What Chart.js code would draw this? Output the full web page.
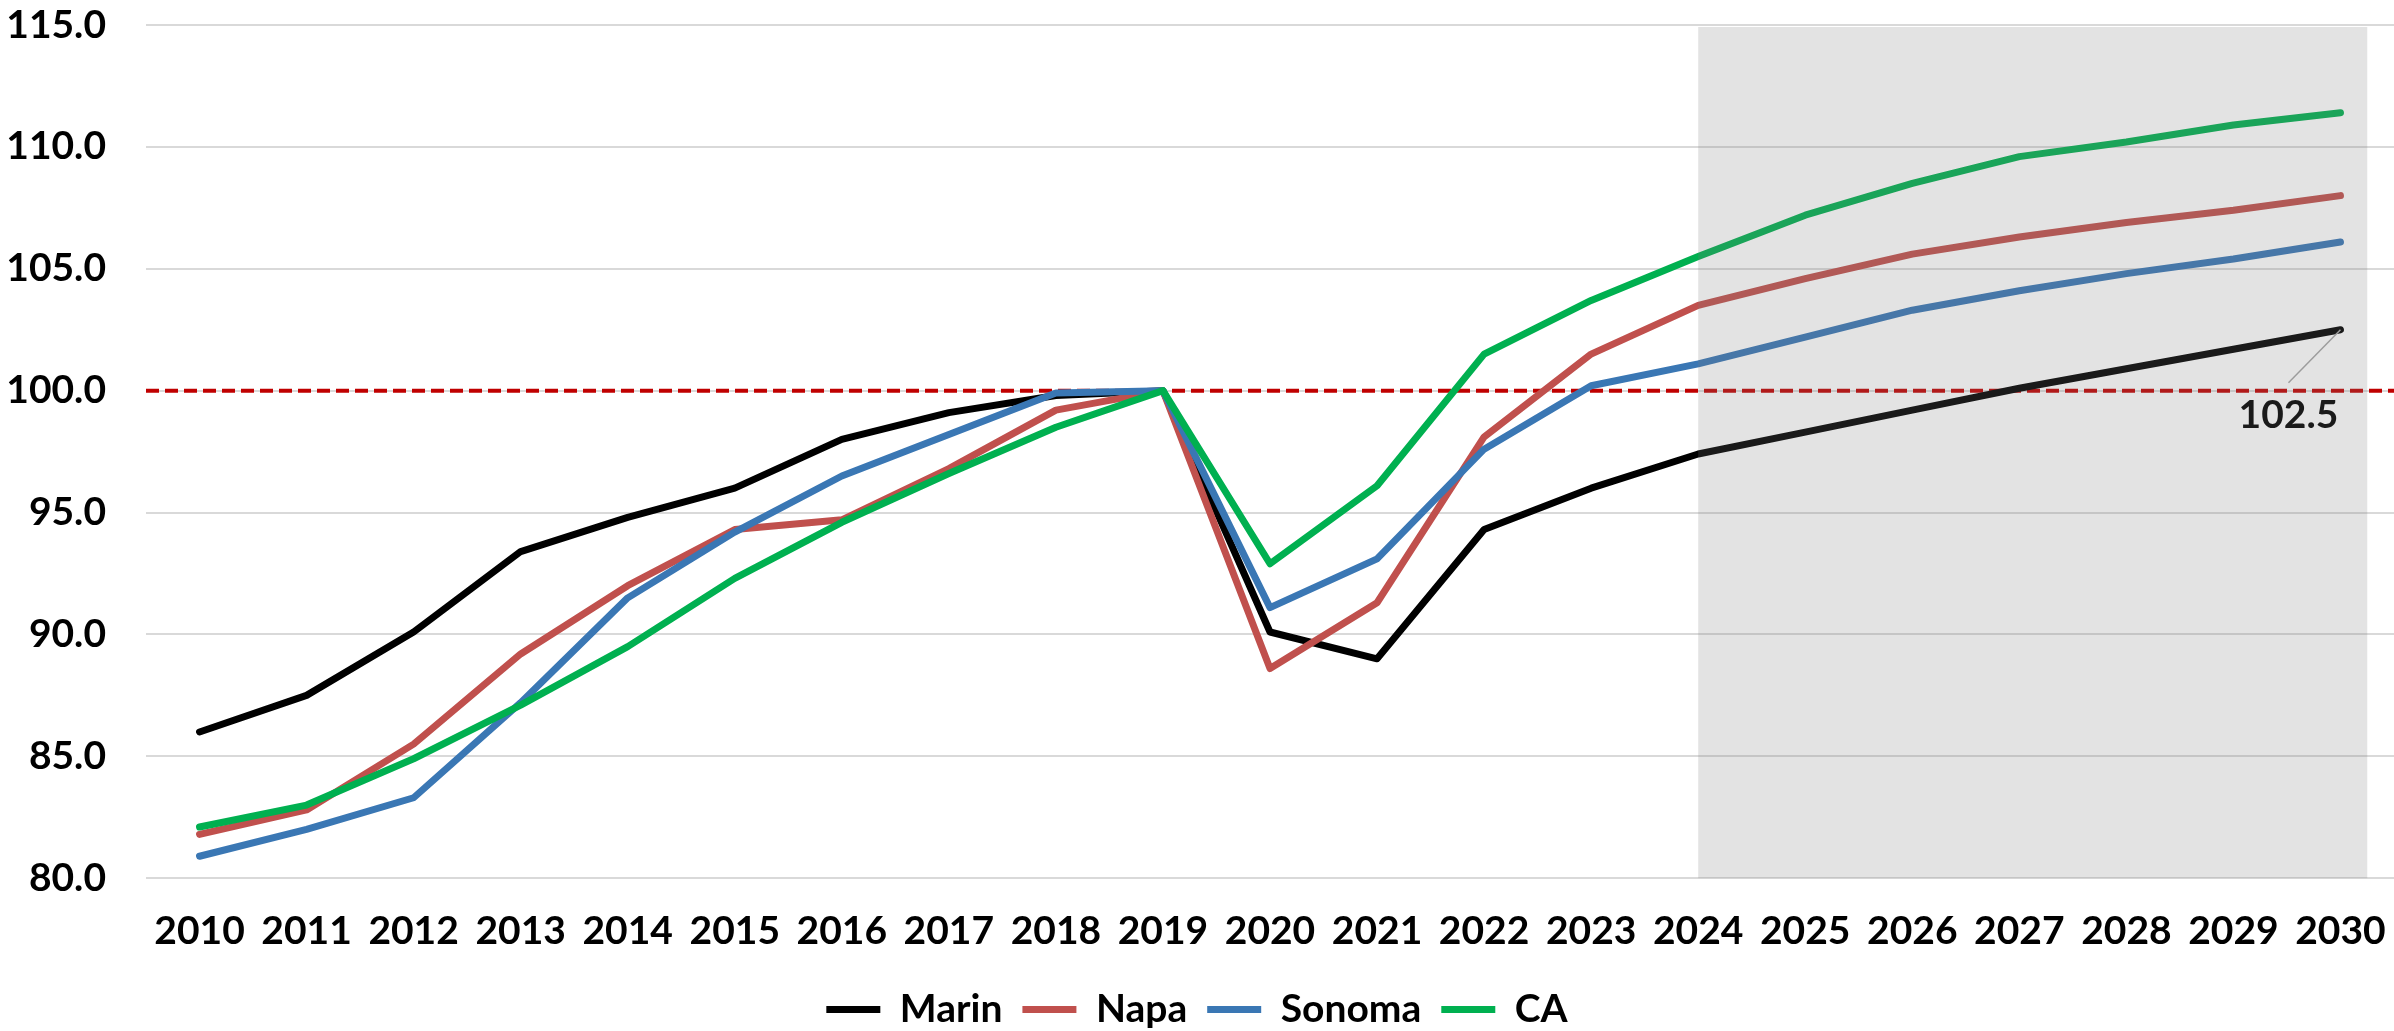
<!DOCTYPE html>
<html>
<head>
<meta charset="utf-8">
<script src="https://cdn.jsdelivr.net/npm/chart.js@4.4.1/dist/chart.umd.min.js"></script>
<style>
  html, body { margin: 0; padding: 0; background: #fff; }
  #wrap { width: 2394px; height: 1031px; position: relative; }
</style>
</head>
<body>
<div id="wrap"><canvas id="chart"></canvas></div>
<script>
// Index values, 2019 = 100
const years = ['2010', '2011', '2012', '2013', '2014', '2015', '2016', '2017', '2018', '2019',
  '2020', '2021', '2022', '2023', '2024', '2025', '2026', '2027', '2028', '2029', '2030'];

const marin = [86.0, 87.5, 90.1, 93.4, 94.8, 96.0, 98.0, 99.1, 99.8, 100.0,
  90.1, 89.0, 94.3, 96.0, 97.4, 98.3, 99.2, 100.1, 100.9, 101.7, 102.5];
const napa = [81.8, 82.8, 85.5, 89.2, 92.0, 94.3, 94.7, 96.8, 99.2, 100.0,
  88.6, 91.3, 98.1, 101.5, 103.5, 104.6, 105.6, 106.3, 106.9, 107.4, 108.0];
const sonoma = [80.9, 82.0, 83.3, 87.2, 91.5, 94.2, 96.5, 98.2, 99.9, 100.0,
  91.1, 93.1, 97.6, 100.2, 101.1, 102.2, 103.3, 104.1, 104.8, 105.4, 106.1];
const ca = [82.1, 83.0, 84.9, 87.1, 89.5, 92.3, 94.6, 96.6, 98.5, 100.0,
  92.9, 96.1, 101.5, 103.7, 105.5, 107.2, 108.5, 109.6, 110.2, 110.9, 111.4];

const seriesNames = ['Marin', 'Napa', 'Sonoma', 'CA'];
const seriesColors = ['#000000', '#C0504D', '#3A77B4', '#00B050'];

const yMin = 80;
const yMax = 115;
const yStep = 5;
const baseline = 100;
const forecastStart = '2024';
const forecastEnd = '2030';
const endLabel = '102.5';

const FONT = 'Lato, "Open Sans", sans-serif';
const FONT_SIZE = 39;
const LEGEND_PAD = 20;

// dashed reference line at 100
const baselinePlugin = {
  id: 'baseline',
  beforeDatasetsDraw(chart) {
    const { ctx, chartArea, scales } = chart;
    const y = scales.y.getPixelForValue(baseline);
    ctx.save();
    ctx.strokeStyle = '#C00000';
    ctx.lineWidth = 4;
    ctx.setLineDash([13, 6]);
    ctx.beginPath();
    ctx.moveTo(chartArea.left, y);
    ctx.lineTo(chartArea.right, y);
    ctx.stroke();
    ctx.restore();
  }
};

// end label for Marin + shaded forecast band on top
const forecastPlugin = {
  id: 'forecast',
  afterDatasetsDraw(chart) {
    const { ctx, chartArea, scales } = chart;
    const x = scales.x;
    const y = scales.y;

    // leader line + label
    const last = marin.length - 1;
    const px = x.getPixelForValue(last);
    const py = y.getPixelForValue(marin[last]);
    ctx.save();
    ctx.strokeStyle = '#a6a6a6';
    ctx.lineWidth = 1.5;
    ctx.beginPath();
    ctx.moveTo(px, py);
    ctx.lineTo(px - 52, py + 53);
    ctx.stroke();
    ctx.fillStyle = '#000';
    ctx.font = 'bold ' + FONT_SIZE + 'px ' + FONT;
    ctx.textAlign = 'center';
    ctx.textBaseline = 'middle';
    ctx.fillText(endLabel, px - 52, py + 86);
    ctx.restore();

    // band
    const step = x.getPixelForValue(1) - x.getPixelForValue(0);
    const left = x.getPixelForValue(years.indexOf(forecastStart));
    const right = x.getPixelForValue(years.indexOf(forecastEnd)) + step * 0.25;
    ctx.save();
    ctx.fillStyle = 'rgba(125, 125, 125, 0.21)';
    ctx.fillRect(left, chartArea.top + 2, right - left, chartArea.bottom - chartArea.top - 2);
    ctx.restore();
  }
};

const values = [marin, napa, sonoma, ca];

new Chart(document.getElementById('chart'), {
  type: 'line',
  data: {
    labels: years,
    datasets: values.map((data, i) => ({
      label: seriesNames[i],
      data,
      borderColor: seriesColors[i],
      backgroundColor: seriesColors[i],
      borderWidth: 7,
      borderCapStyle: 'round',
      borderJoinStyle: 'round',
      pointRadius: 0,
      tension: 0,
      order: values.length - i
    }))
  },
  options: {
    responsive: true,
    maintainAspectRatio: false,
    animation: false,
    layout: { padding: { top: 0, right: 0, bottom: -8, left: 0 } },
    plugins: {
      legend: {
        position: 'bottom',
        labels: {
          usePointStyle: true,
          pointStyle: 'line',
          pointStyleWidth: 54,
          padding: LEGEND_PAD,
          color: '#000',
          font: { family: FONT, size: FONT_SIZE, weight: 'bold' },
          sort: (a, b) => a.datasetIndex - b.datasetIndex
        }
      },
      tooltip: { enabled: false }
    },
    scales: {
      x: {
        offset: true,
        afterFit: scale => {
          scale.paddingLeft = 0;
          scale.paddingRight = 0;
          // keep the legend close to the year labels despite the wider legend padding
          scale.height -= (LEGEND_PAD - 5);
        },
        grid: { display: false, drawTicks: false },
        border: { display: false },
        ticks: {
          padding: 30,
          color: '#000',
          maxRotation: 0,
          autoSkip: false,
          font: { family: FONT, size: FONT_SIZE, weight: 'bold' }
        }
      },
      y: {
        min: yMin,
        max: yMax,
        afterFit: scale => {
          scale.width = 146;
          scale.paddingTop = 25;
          scale.paddingBottom = 0;
        },
        grid: { color: '#d9d9d9', lineWidth: 2, drawTicks: false },
        border: { display: false },
        ticks: {
          stepSize: yStep,
          padding: 40,
          color: '#000',
          font: { family: FONT, size: FONT_SIZE, weight: 'bold' },
          callback: v => v.toFixed(1)
        }
      }
    }
  },
  plugins: [baselinePlugin, forecastPlugin]
});
</script>
</body>
</html>
